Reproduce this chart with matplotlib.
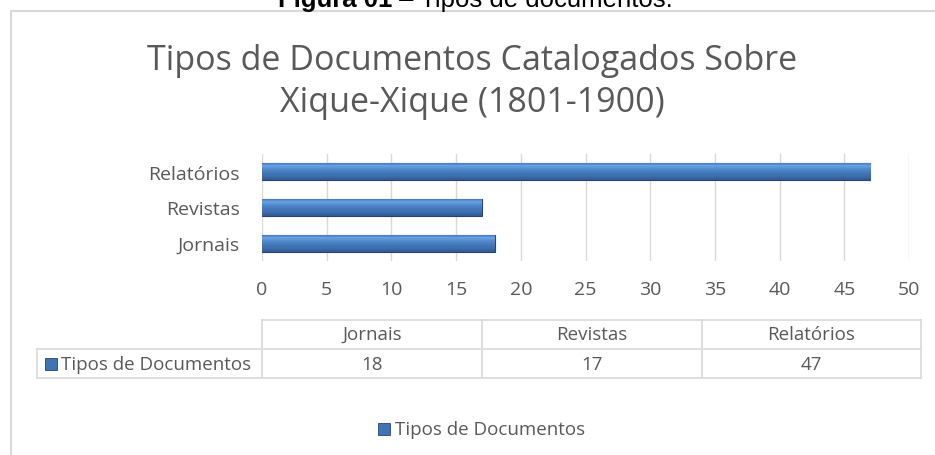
import numpy as np
import matplotlib.pyplot as plt
from matplotlib.patches import Rectangle
from matplotlib.lines import Line2D
from matplotlib.colors import LinearSegmentedColormap

categories = ['Jornais', 'Revistas', 'Relatórios']
values = [18, 17, 47]
series_name = 'Tipos de Documentos'
title = 'Tipos de Documentos Catalogados Sobre\nXique-Xique (1801-1900)'
caption_bold = 'Figura 01'
caption_rest = ' – Tipos de documentos.'
xticks = [0, 5, 10, 15, 20, 25, 30, 35, 40, 45, 50]

W, H = 935, 456
grey_txt = '#595959'
grid_col = '#d9d9d9'

plt.rcParams['font.family'] = ['Open Sans', 'DejaVu Sans']

fig = plt.figure(figsize=(W / 100, H / 100), dpi=100)


def fx(px):
    return px / W


def fy(py):
    return 1 - py / H


# outer chart border (runs off the right and bottom edge)
fig.add_artist(Rectangle((fx(11), fy(470)), fx(940), fy(12) - fy(470),
                         transform=fig.transFigure, fill=False,
                         edgecolor=grid_col, lw=1.5))

# caption, cut off at the top like the source
t1 = fig.text(fx(278), fy(7.5), caption_bold, fontsize=18.5, fontweight='bold',
              family='Liberation Sans', ha='left', va='baseline', color='black')
fig.canvas.draw()
bb = t1.get_window_extent()
fig.text(bb.x1 / W, fy(7.5), caption_rest, fontsize=18.5,
         family='Liberation Sans', ha='left', va='baseline', color='black')

fig.text(fx(472), fy(82), title, fontsize=24.5, color=grey_txt,
         ha='center', va='center', linespacing=1.32)

ax = fig.add_axes([fx(262), fy(262), fx(909) - fx(262), fy(155) - fy(262)])
y = np.arange(len(categories))
bars = ax.barh(y, values, height=0.48, color='#4a7ebb',
               edgecolor='#264670', lw=0.8, zorder=3)

# bevel-ish gradient inside each bar: light on top, dark at the bottom
grad = np.linspace(0, 1, 64).reshape(-1, 1)
cmap = LinearSegmentedColormap.from_list(
    'bev', ['#2f5a94', '#3d6dac', '#4477b9', '#5088cc', '#69a3e8', '#3a6aa8'])
for b in bars:
    x0, y0 = b.get_x(), b.get_y()
    im = ax.imshow(grad, extent=(x0, x0 + b.get_width(), y0, y0 + b.get_height()),
                   aspect='auto', cmap=cmap, zorder=4, origin='lower')
    im.set_clip_path(b)

ax.set_xlim(0, 50)
ax.set_ylim(-0.5, 2.5)
ax.set_xticks(xticks)
ax.set_yticks(y)
ax.set_yticklabels(categories)
ax.grid(axis='x', color=grid_col, lw=1, zorder=0)
for s in ax.spines.values():
    s.set_visible(False)
ax.tick_params(length=0, labelsize=14, colors=grey_txt)
ax.tick_params(axis='y', pad=16)
ax.tick_params(axis='x', pad=14)
ax.set_facecolor('none')

# data table under the chart
col_edges = [37, 262, 482, 702, 921]
row_edges = [321, 350, 379]


def hline(x0, x1, yy):
    fig.add_artist(Line2D([fx(x0), fx(x1)], [fy(yy), fy(yy)],
                          transform=fig.transFigure, color=grid_col, lw=1.2))


def vline(xx, y0, y1):
    fig.add_artist(Line2D([fx(xx), fx(xx)], [fy(y0), fy(y1)],
                          transform=fig.transFigure, color=grid_col, lw=1.2))


hline(262, 921, row_edges[0])
hline(37, 921, row_edges[1])
hline(37, 921, row_edges[2])
vline(37, row_edges[1], row_edges[2])
for xx in col_edges[1:]:
    vline(xx, row_edges[0], row_edges[2])

for i, (c, v) in enumerate(zip(categories, values)):
    cx = (col_edges[i + 1] + col_edges[i + 2]) / 2
    fig.text(fx(cx), fy(335), c, fontsize=13.5, color=grey_txt,
             ha='center', va='center')
    fig.text(fx(cx), fy(365), str(v), fontsize=13.5, color=grey_txt,
             ha='center', va='center')


def key(px, py):
    fig.add_artist(Rectangle((fx(px - 6), fy(py + 6)), fx(12), fy(0) - fy(12),
                             transform=fig.transFigure, facecolor='#3f73b4',
                             edgecolor='#264670', lw=0.6))


key(51, 365)
fig.text(fx(61), fy(365), series_name, fontsize=13.5, color=grey_txt,
         ha='left', va='center')

key(384, 430)
fig.text(fx(395), fy(430), series_name, fontsize=13.5, color=grey_txt,
         ha='left', va='center')

fig.savefig('out.png', dpi=100)
